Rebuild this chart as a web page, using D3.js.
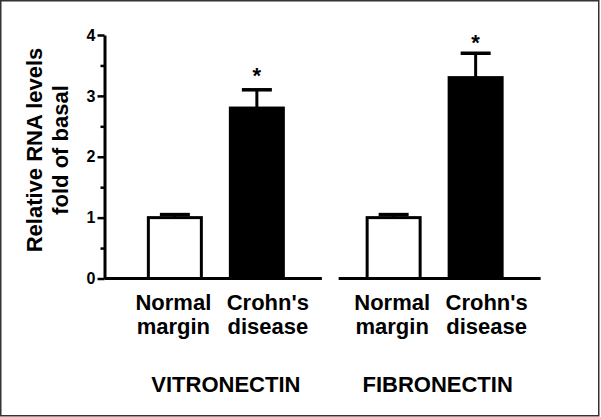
<!DOCTYPE html>
<html>
<head>
<meta charset="utf-8">
<script src="https://cdn.jsdelivr.net/npm/d3@7/dist/d3.min.js"></script>
<style>
  body { margin: 0; background: #fff; }
  text { font-family: "Liberation Sans", Arial, sans-serif; font-weight: bold; fill: #000; }
</style>
</head>
<body>
<div id="chartContainer"></div>
<script>
// data
const genes = ['VITRONECTIN', 'FIBRONECTIN'];
const conditions = ['Normal margin', "Crohn's disease"];
const labelLines = [['Normal', 'margin'], ["Crohn's", 'disease']];
const meanVitronectin = [1.0, 2.8];
const meanFibronectin = [1.0, 3.3];
const semVitronectin = [0.05, 0.3];
const semFibronectin = [0.05, 0.4];
const significant = [false, true];
const yTicks = [0, 1, 2, 3, 4];
const yMinorTicks = [0.5, 1.5, 2.5, 3.5];

var width = 601,
    height = 417;
const barWidth = 56;

var svg = d3.select('#chartContainer')
    .append('svg')
    .attr('width', width)
    .attr('height', height);

// frame
svg.append('rect')
    .attr('x', 0.75).attr('y', 0.75)
    .attr('width', 598).attr('height', 415)
    .attr('fill', '#fff')
    .attr('stroke', '#333')
    .attr('stroke-width', 1.5);

var y = d3.scaleLinear().domain([0, 4]).range([278.5, 35]);

var xGroup = d3.scalePoint()
    .domain(genes)
    .range([104.5, 546])
    .padding(0.509);

var xInner = d3.scalePoint()
    .domain(conditions)
    .range([-41, 41]);

var means = { 'VITRONECTIN': meanVitronectin, 'FIBRONECTIN': meanFibronectin };
var sems = { 'VITRONECTIN': semVitronectin, 'FIBRONECTIN': semFibronectin };

// y axis
var yAxis = d3.axisLeft(y)
    .tickValues(yTicks)
    .tickFormat(d3.format('d'))
    .tickSize(7).tickSizeOuter(0).tickPadding(2);
var gy = svg.append('g')
    .attr('transform', 'translate(104.5,0)')
    .call(yAxis);
gy.select('.domain').attr('stroke', '#000').attr('stroke-width', 3);
gy.selectAll('.tick line').attr('stroke', '#000').attr('stroke-width', 2.5);
gy.selectAll('.tick text')
    .style('font-size', '16px')
    .style('font-family', '"Liberation Sans", Arial, sans-serif')
    .style('font-weight', 'bold');

var gyMinor = svg.append('g')
    .attr('transform', 'translate(104.5,0)')
    .call(d3.axisLeft(y).tickValues(yMinorTicks).tickSize(4).tickFormat(''));
gyMinor.select('.domain').remove();
gyMinor.selectAll('.tick line').attr('stroke', '#000').attr('stroke-width', 2.5);

// y label
var yLabel = svg.append('text')
    .attr('transform', 'translate(0,150) rotate(-90)')
    .attr('text-anchor', 'middle')
    .style('font-size', '22px');
yLabel.append('tspan').attr('x', 0).attr('y', 41.5).text('Relative RNA levels');
yLabel.append('tspan').attr('x', 0).attr('y', 68).text('fold of basal');

// groups
genes.forEach(function (gene, gi) {
    var cx = xGroup(gene);
    var g = svg.append('g').attr('transform', 'translate(' + cx + ',0)');

    // baseline segment
    var x0 = gi === 0 ? 104.5 - cx : -96;
    g.append('line')
        .attr('x1', x0).attr('x2', 106)
        .attr('y1', y(0)).attr('y2', y(0))
        .attr('stroke', '#000').attr('stroke-width', 3);

    var rows = conditions.map(function (c, i) {
        return { cond: c, mean: means[gene][i], sem: sems[gene][i], sig: significant[i], i: i };
    });

    // error bars (drawn first so the bar covers the stem)
    g.selectAll('line.err')
        .data(rows)
        .enter()
        .append('line')
        .attr('class', 'err')
        .attr('x1', function (d) { return xInner(d.cond); })
        .attr('x2', function (d) { return xInner(d.cond); })
        .attr('y1', function (d) { return y(d.mean); })
        .attr('y2', function (d) { return y(d.mean + d.sem); })
        .attr('stroke', '#000').attr('stroke-width', 3);

    g.selectAll('line.cap')
        .data(rows)
        .enter()
        .append('line')
        .attr('class', 'cap')
        .attr('x1', function (d) { return xInner(d.cond) - 15; })
        .attr('x2', function (d) { return xInner(d.cond) + 15; })
        .attr('y1', function (d) { return y(d.mean + d.sem); })
        .attr('y2', function (d) { return y(d.mean + d.sem); })
        .attr('stroke', '#000').attr('stroke-width', 3.5);

    g.selectAll('rect.bar')
        .data(rows)
        .enter()
        .append('rect')
        .attr('class', 'bar')
        .attr('x', function (d) { return xInner(d.cond) - barWidth / 2 + 1.5; })
        .attr('y', function (d) { return y(d.mean); })
        .attr('width', barWidth - 3)
        .attr('height', function (d) { return y(0) - y(d.mean); })
        .attr('fill', function (d) { return d.i === 0 ? '#fff' : '#000'; })
        .attr('stroke', '#000')
        .attr('stroke-width', 3);

    // significance stars
    g.selectAll('text.star')
        .data(rows.filter(function (d) { return d.sig; }))
        .enter()
        .append('text')
        .attr('class', 'star')
        .attr('x', function (d) { return xInner(d.cond); })
        .attr('y', function (d) { return y(d.mean + d.sem) - (gi === 0 ? 7 : 3); })
        .attr('text-anchor', 'middle')
        .style('font-size', '22px')
        .text('*');

    // category labels
    g.selectAll('text.cat')
        .data(rows)
        .enter()
        .append('text')
        .attr('class', 'cat')
        .attr('text-anchor', 'middle')
        .style('font-size', '22px')
        .each(function (d) {
            var t = d3.select(this);
            var dx = d.i === 0 ? -1.5 : 11;
            labelLines[d.i].forEach(function (line, li) {
                t.append('tspan')
                    .attr('x', xInner(d.cond) + dx)
                    .attr('y', 310 + li * 24)
                    .text(line);
            });
        });

    // gene title
    g.append('text')
        .attr('x', gi === 0 ? 10 : 3)
        .attr('y', 392)
        .attr('text-anchor', 'middle')
        .style('font-size', '22px')
        .text(gene);
});
</script>
</body>
</html>
